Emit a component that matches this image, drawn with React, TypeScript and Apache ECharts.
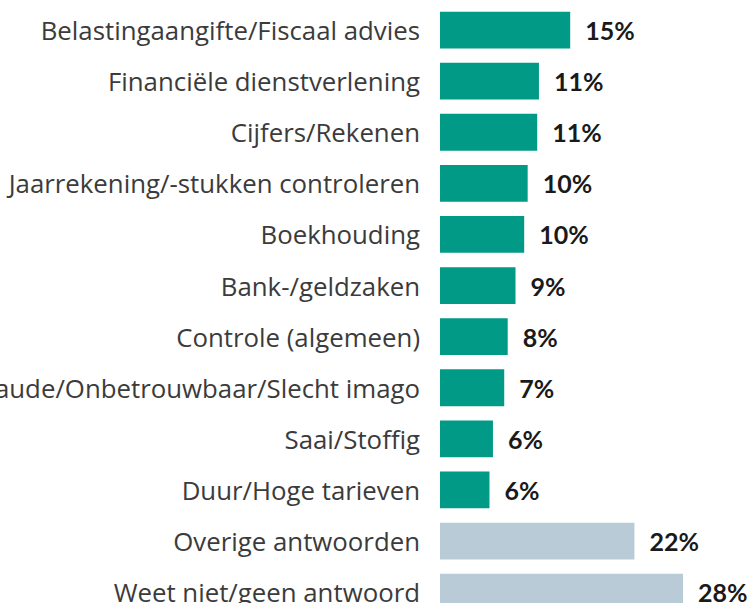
import React, { useEffect, useRef } from "react";
import * as echarts from "echarts";

const categories = [
  "Belastingaangifte/Fiscaal advies",
  "Financiële dienstverlening",
  "Cijfers/Rekenen",
  "Jaarrekening/-stukken controleren",
  "Boekhouding",
  "Bank-/geldzaken",
  "Controle (algemeen)",
  "Fraude/Onbetrouwbaar/Slecht imago",
  "Saai/Stoffig",
  "Duur/Hoge tarieven",
  "Overige antwoorden",
  "Weet niet/geen antwoord",
];
const values = [15.0, 11.4, 11.2, 10.1, 9.7, 8.7, 7.8, 7.4, 6.1, 5.7, 22.4, 28.0];
const valueLabels = ["15%", "11%", "11%", "10%", "10%", "9%", "8%", "7%", "6%", "6%", "22%", "28%"];
const isOther = [false, false, false, false, false, false, false, false, false, false, true, true];

const TEAL = "#009A86";
const GREY = "#B8CBD7";

export default function App() {
  const ref = useRef<HTMLDivElement>(null);
  useEffect(() => {
    if (!ref.current) return;
    const chart = echarts.init(ref.current, undefined, { renderer: "svg" });
    chart.setOption({
      animation: false,
      backgroundColor: "#ffffff",
      grid: {
        left: 440,
        top: 4.5,
        width: 8.68 * 35,
        height: 51.1 * 12,
        containLabel: false,
        outerBoundsMode: "none",
      },
      xAxis: {
        type: "value",
        min: 0,
        max: 35,
        show: false,
      },
      yAxis: {
        type: "category",
        data: categories,
        inverse: true,
        axisLine: { show: false },
        axisTick: { show: false },
        splitLine: { show: false },
        axisLabel: {
          margin: 20,
          fontFamily: "Open Sans",
          fontSize: 25.8,
          color: "#3b3b3b",
        },
      },
      series: [
        {
          type: "bar",
          data: values.map((v, i) => ({
            value: v,
            itemStyle: { color: isOther[i] ? GREY : TEAL },
          })),
          barCategoryGap: "28%",
          label: {
            show: true,
            position: "right",
            distance: 15,
            formatter: (p: any) => valueLabels[p.dataIndex],
            fontFamily: "Lato",
            fontWeight: "bold",
            fontSize: 25,
            color: "#1a1a1a",
          },
        },
      ],
    });
    return () => chart.dispose();
  }, []);
  return (
    <div
      ref={ref}
      style={{ position: "fixed", left: 0, top: 0, width: 751, height: 640 }}
    />
  );
}
